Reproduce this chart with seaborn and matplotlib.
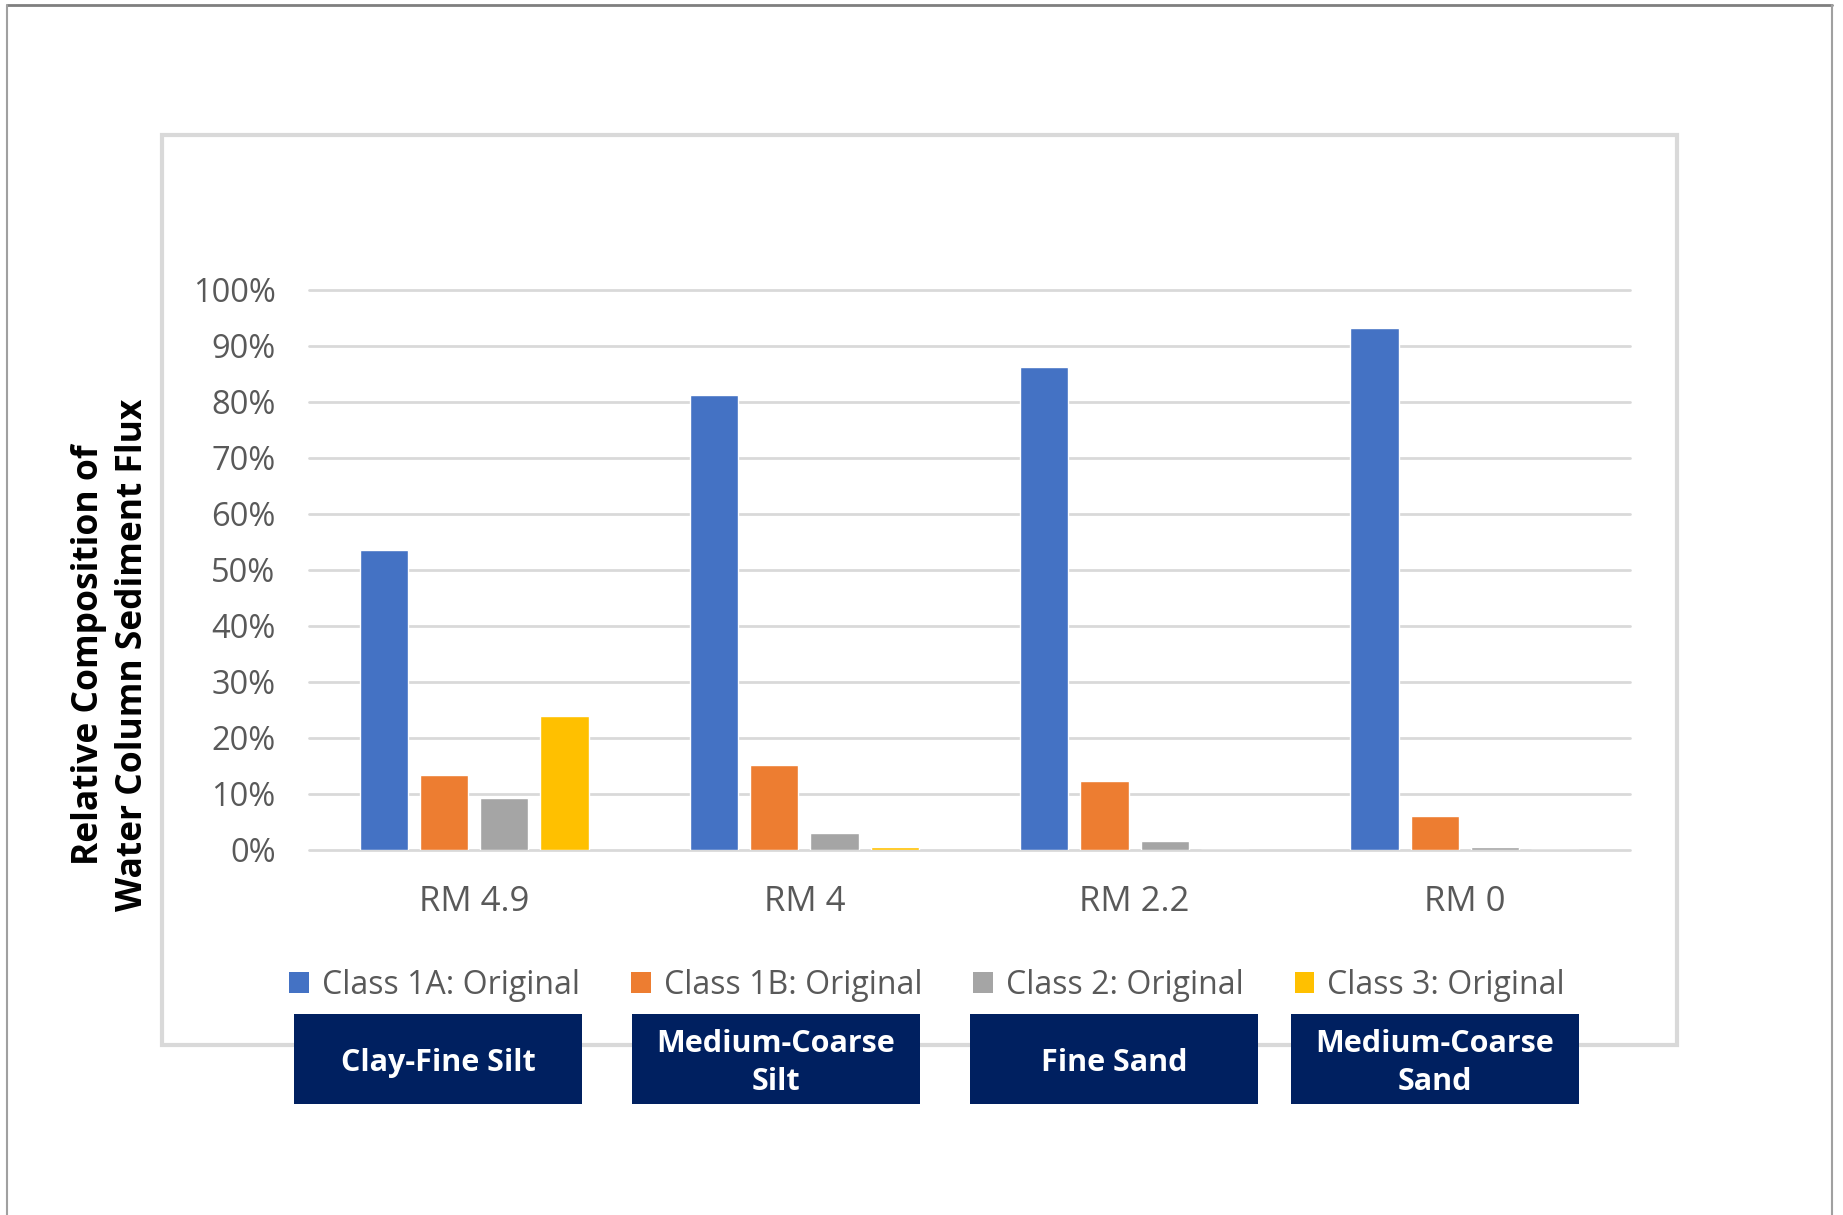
import matplotlib
matplotlib.use("Agg")
import matplotlib.pyplot as plt
import seaborn as sns
import pandas as pd
from matplotlib.patches import Rectangle, Patch
from matplotlib.lines import Line2D

# ---- data ----
categories = ["RM 4.9", "RM 4", "RM 2.2", "RM 0"]
series_names = ["Class 1A: Original", "Class 1B: Original",
                "Class 2: Original", "Class 3: Original"]
class_1a = [53.5, 81.2, 86.2, 93.2]
class_1b = [13.4, 15.2, 12.3, 6.0]
class_2 = [9.2, 3.0, 1.6, 0.5]
class_3 = [24.0, 0.5, 0.0, 0.0]
yticks = [0, 10, 20, 30, 40, 50, 60, 70, 80, 90, 100]
ytick_labels = [f"{v}%" for v in yticks]
size_labels = ["Clay-Fine Silt", "Medium-Coarse\nSilt", "Fine Sand", "Medium-Coarse\nSand"]
colors = ["#4472C4", "#ED7D31", "#A5A5A5", "#FFC000"]

rows = []
for name, vals in zip(series_names, [class_1a, class_1b, class_2, class_3]):
    for c, v in zip(categories, vals):
        rows.append({"site": c, "series": name, "value": v})
df = pd.DataFrame(rows)

sns.set_theme(style="white")
plt.rcParams["font.family"] = ["Open Sans", "DejaVu Sans"]

W, H = 1843, 1215
fig = plt.figure(figsize=(W / 100, H / 100), dpi=100)

def fx(px):
    return px / W

def fy(py):
    return 1 - py / H

# outer frame (top, left, right)
fig.add_artist(Line2D([fx(7), fx(1832)], [fy(5), fy(5)], color="#7f7f7f", lw=2))
fig.add_artist(Line2D([fx(7), fx(7)], [fy(5), 0], color="#a0a0a0", lw=1.5))
fig.add_artist(Line2D([fx(1832), fx(1832)], [fy(5), 0], color="#a0a0a0", lw=1.5))

# inner chart box
fig.add_artist(Rectangle((fx(162), fy(1045)), fx(1677) - fx(162), fy(135) - fy(1045),
                         facecolor="white", edgecolor="#d9d9d9", lw=3, zorder=0))

ax = fig.add_axes([fx(309), fy(850), fx(1630) - fx(309), fy(290) - fy(850)])
ax.set_facecolor("none")
sns.barplot(data=df, x="site", y="value", hue="series", palette=colors,
            width=0.73, gap=0.2, ax=ax, legend=False, saturation=1)

ax.set_ylim(0, 100)
ax.set_xlim(-0.5, 3.5)
ax.set_yticks(yticks)
ax.set_yticklabels(ytick_labels)
ax.yaxis.grid(True, color="#d9d9d9", lw=2)
ax.set_axisbelow(True)
for gl in ax.get_ygridlines():
    gl.set_clip_on(False)
for s in ax.spines.values():
    s.set_visible(False)
ax.tick_params(axis="y", length=0, pad=24, labelsize=23.5, labelcolor="#595959")
ax.tick_params(axis="x", length=0, pad=25, labelsize=25, labelcolor="#595959")
ax.set_xlabel("")
ax.set_ylabel("")

# y label
fig.text(fx(111), fy(655), "Relative Composition of\nWater Column Sediment Flux",
         rotation=90, ha="center", va="center", multialignment="center",
         fontsize=25.5, fontweight="bold", color="black", linespacing=1.28)

# legend
handles = [Patch(facecolor=c, edgecolor="none") for c in colors]
fig.legend(handles, series_names, loc="center", bbox_to_anchor=(fx(927), fy(985)),
           ncol=4, frameon=False, fontsize=23, labelcolor="#595959",
           handlelength=0.62, handleheight=0.62, handletextpad=0.4,
           columnspacing=1.6)

# navy boxes with size classes
box_lefts = [294, 632, 970, 1291]
for left, lab in zip(box_lefts, size_labels):
    fig.add_artist(Rectangle((fx(left), fy(1104)), fx(288), fy(1014) - fy(1104),
                             facecolor="#002060", edgecolor="none", zorder=5))
    fig.text(fx(left + 144), fy(1063), lab, ha="center", va="center",
             color="white", fontsize=22, fontweight="bold", zorder=6,
             linespacing=1.32)

fig.savefig("out.png", dpi=100)
